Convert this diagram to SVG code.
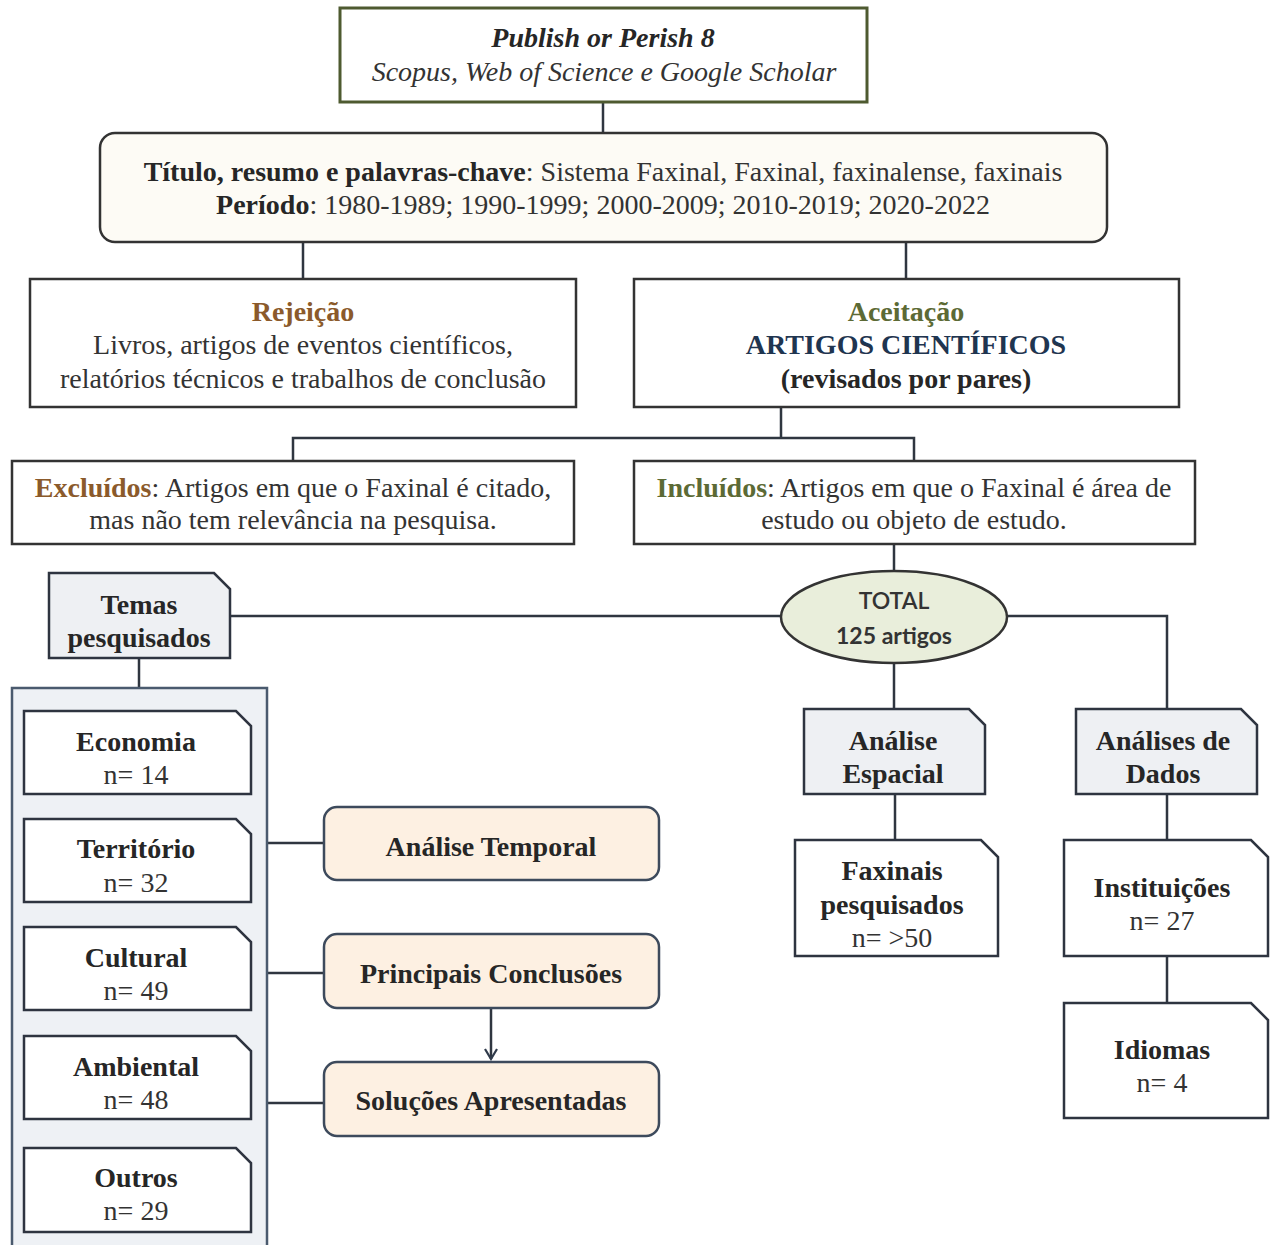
<svg xmlns="http://www.w3.org/2000/svg" width="1271" height="1245" viewBox="0 0 1271 1245">
<defs>
<style>
text{font-family:"Liberation Serif","Times New Roman",serif;font-size:28px;fill:#333;text-anchor:middle}
.b{font-weight:bold;fill:#262626}
.box{fill:#fff;stroke:#333;stroke-width:2.5}
.snipw{fill:#fff;stroke:#2e3440;stroke-width:2.5}
.snipg{fill:#eef0f3;stroke:#2e3440;stroke-width:2.5}
.peach{fill:#fdf0e2;stroke:#3d4a5c;stroke-width:2.5}
.conn{fill:none;stroke:#2f3640;stroke-width:2.5}
.brown{fill:#8b5a2b;font-weight:bold}
.olive{fill:#5c6a35;font-weight:bold}
.sans{font-family:Lato,"Open Sans","Liberation Sans",sans-serif;font-size:23px}
</style>
<marker id="arr" markerWidth="14" markerHeight="14" refX="12" refY="7" orient="auto" markerUnits="userSpaceOnUse">
<path d="M2 1 L12 7 L2 13" fill="none" stroke="#2f3a4a" stroke-width="2.2"/>
</marker>
</defs>
<rect width="1271" height="1245" fill="#fff"/>

<g id="connectors">
<path class="conn" d="M603 102 V133"/>
<path class="conn" d="M303 242 V279 M906 242 V279"/>
<path class="conn" d="M781 407 V438 M293 461 V438 H914 V461"/>
<path class="conn" d="M894 544 V571"/>
<path class="conn" d="M781 616 H230"/>
<path class="conn" d="M1007 616 H1167 V709"/>
<path class="conn" d="M894 663 V709"/>
<path class="conn" d="M139 658 V688"/>
<path class="conn" d="M895 794 V840"/>
<path class="conn" d="M1167 794 V840 M1167 956 V1003"/>
<path class="conn" d="M267 843 H324 M267 973 H324 M267 1103 H324"/>
<path class="conn" d="M491 1008 V1059" stroke="#2f3a4a" marker-end="url(#arr)"/>
</g>

<g id="source">
<rect x="340" y="8" width="527" height="94" fill="#fff" stroke="#4e5a30" stroke-width="3"/>
<text x="603" y="47" class="b" font-style="italic" fill="#111" font-size="28">Publish or Perish 8</text>
<text x="604" y="81" font-style="italic" fill="#444" font-size="29">Scopus, Web of Science e Google Scholar</text>
</g>

<g id="criteria">
<rect x="100" y="133" width="1007" height="109" rx="15" fill="#fdfbf5" stroke="#333" stroke-width="2.5"/>
<text x="603" y="181"><tspan class="b">Título, resumo e palavras-chave</tspan>: Sistema Faxinal, Faxinal, faxinalense, faxinais</text>
<text x="603" y="214"><tspan class="b">Período</tspan>: 1980-1989; 1990-1999; 2000-2009; 2010-2019; 2020-2022</text>
</g>

<g id="rejeicao">
<rect class="box" x="30" y="279" width="546" height="128"/>
<text x="303" y="321" class="brown">Rejeição</text>
<text x="303" y="354">Livros, artigos de eventos científicos,</text>
<text x="303" y="388">relatórios técnicos e trabalhos de conclusão</text>
</g>

<g id="aceitacao">
<rect class="box" x="634" y="279" width="545" height="128"/>
<text x="906" y="321" class="olive">Aceitação</text>
<text x="906" y="354" class="b" style="fill:#1f3550">ARTIGOS  CIENTÍFICOS</text>
<text x="906" y="388" class="b">(revisados por pares)</text>
</g>

<g id="excluidos">
<rect class="box" x="12" y="461" width="562" height="83"/>
<text x="293" y="497"><tspan class="brown">Excluídos</tspan>: Artigos em que o Faxinal é citado,</text>
<text x="293" y="529">mas não tem relevância na pesquisa.</text>
</g>

<g id="incluidos">
<rect class="box" x="634" y="461" width="561" height="83"/>
<text x="914" y="497"><tspan class="olive">Incluídos</tspan>: Artigos em que o Faxinal é área de</text>
<text x="914" y="529">estudo ou objeto de estudo.</text>
</g>

<g id="total">
<ellipse cx="894" cy="617" rx="113" ry="46" fill="#e9eedb" stroke="#333" stroke-width="2.5"/>
<text x="894" y="609" class="sans" font-weight="600" fill="#5c6a35">TOTAL</text>
<text x="894" y="644" class="sans" font-weight="bold" fill="#222" font-size="24">125 artigos</text>
</g>

<g id="temas">
<path class="snipg" d="M49 573 H214 L230 589 V658 H49 Z"/>
<text x="139" y="614" class="b">Temas</text>
<text x="139" y="647" class="b">pesquisados</text>
</g>

<g id="temas-container">
<rect x="12" y="688" width="255" height="570" fill="#eef1f5" stroke="#4a5a6e" stroke-width="2.5"/>
</g>

<g id="economia">
<path class="snipw" d="M24 711 H236 L251 726 V794 H24 Z"/>
<text x="136" y="751" class="b">Economia</text>
<text x="136" y="784">n= 14</text>
</g>
<g id="territorio">
<path class="snipw" d="M24 819 H236 L251 834 V902 H24 Z"/>
<text x="136" y="858" class="b">Território</text>
<text x="136" y="892">n= 32</text>
</g>
<g id="cultural">
<path class="snipw" d="M24 927 H236 L251 942 V1010 H24 Z"/>
<text x="136" y="967" class="b">Cultural</text>
<text x="136" y="1000">n= 49</text>
</g>
<g id="ambiental">
<path class="snipw" d="M24 1036 H236 L251 1051 V1119 H24 Z"/>
<text x="136" y="1076" class="b">Ambiental</text>
<text x="136" y="1109">n= 48</text>
</g>
<g id="outros">
<path class="snipw" d="M24 1148 H236 L251 1163 V1232 H24 Z"/>
<text x="136" y="1187" class="b">Outros</text>
<text x="136" y="1220">n= 29</text>
</g>

<g id="analise-temporal">
<rect class="peach" x="324" y="807" width="335" height="73" rx="13"/>
<text x="491" y="856" class="b">Análise  Temporal</text>
</g>
<g id="principais-conclusoes">
<rect class="peach" x="324" y="934" width="335" height="74" rx="13"/>
<text x="491" y="983" class="b">Principais  Conclusões</text>
</g>
<g id="solucoes">
<rect class="peach" x="324" y="1062" width="335" height="74" rx="13"/>
<text x="491" y="1110" class="b">Soluções Apresentadas</text>
</g>

<g id="analise-espacial">
<path class="snipg" d="M804 709 H969 L985 725 V794 H804 Z"/>
<text x="893" y="750" class="b">Análise</text>
<text x="893" y="783" class="b">Espacial</text>
</g>
<g id="faxinais">
<path class="snipw" d="M795 840 H981 L998 857 V956 H795 Z"/>
<text x="892" y="880" class="b">Faxinais</text>
<text x="892" y="914" class="b">pesquisados</text>
<text x="892" y="947">n= &gt;50</text>
</g>

<g id="analises-dados">
<path class="snipg" d="M1076 709 H1241 L1257 725 V794 H1076 Z"/>
<text x="1163" y="750" class="b">Análises de</text>
<text x="1163" y="783" class="b">Dados</text>
</g>
<g id="instituicoes">
<path class="snipw" d="M1064 840 H1251 L1268 857 V956 H1064 Z"/>
<text x="1162" y="897" class="b">Instituições</text>
<text x="1162" y="930">n= 27</text>
</g>
<g id="idiomas">
<path class="snipw" d="M1064 1003 H1251 L1268 1020 V1118 H1064 Z"/>
<text x="1162" y="1059" class="b">Idiomas</text>
<text x="1162" y="1092">n= 4</text>
</g>
</svg>
